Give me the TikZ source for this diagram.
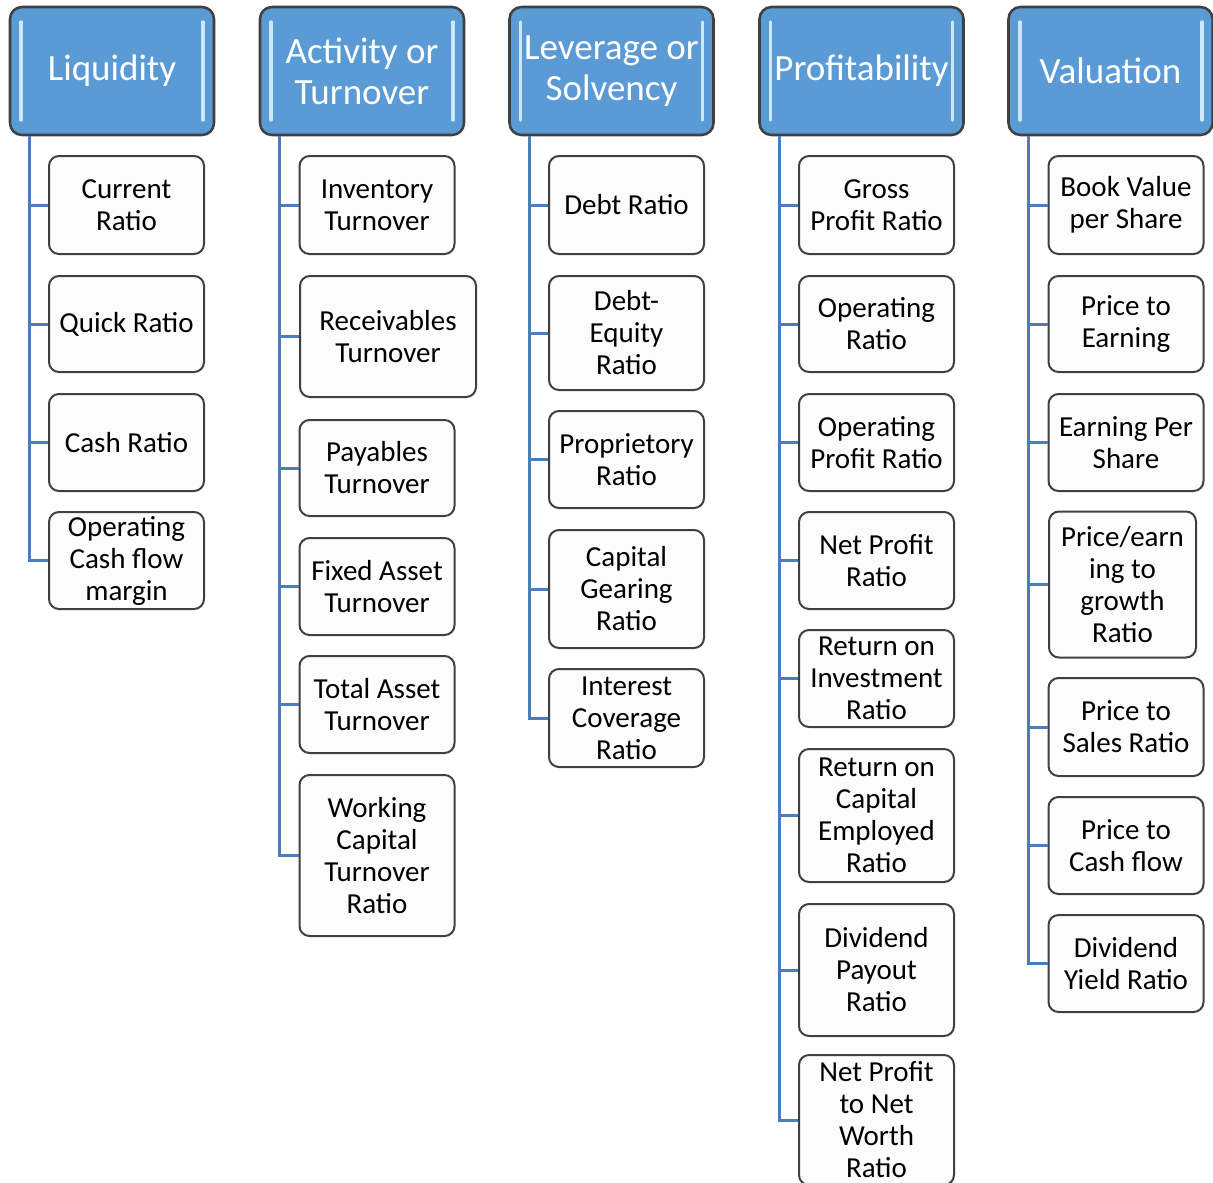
\documentclass[tikz,border=0pt]{standalone}
\usepackage{fontspec}
\setmainfont{Carlito}

\definecolor{hdrblue}{RGB}{91,155,213}
\definecolor{hdrgloss}{RGB}{205,232,252}
\definecolor{linkblue}{RGB}{74,126,187}
\definecolor{rim}{RGB}{64,64,64}

\tikzset{every picture/.style={line width=0.75pt}}
\tikzset{
  hdr/.style={draw=rim, line width=1.9pt, rounded corners=9pt, fill=hdrblue, text=white,
    minimum width=153pt, minimum height=96pt, inner sep=0pt, align=center,
    font=\fontsize{27.75}{30.75}\selectfont},
  kid/.style={draw=rim, line width=1.5pt, rounded corners=7.5pt,
    fill={rgb,255:red,252;green,252;blue,252}, minimum width=116.25pt,
    minimum height=0.75pt*#1, inner sep=1pt, align=center,
    font=\fontsize{21.75}{24}\selectfont},
  wide/.style={minimum width=0.75pt*#1},
  link/.style={draw=linkblue, line width=2.25pt},
  gloss/.style={draw=hdrgloss, line width=2.6pt, line cap=round}
}

\begin{document}
\begin{tikzpicture}[x=0.75pt,y=0.75pt,yscale=-1]
	\useasboundingbox (0,0) rectangle (1213,1182);

	% Header Nodes
	\node [hdr] (liq) at (112,71) {Liquidity};
	\node [hdr] (act) at (362,71) {Activity or\\Turnover};
	\node [hdr] (lev) at (611.5,71) {Leverage or\\Solvency};
	\node [hdr] (pro) at (861.5,71) {Profitability};
	\node [hdr] (val) at (1110.5,71) {Valuation};

	% gloss on headers
	\foreach \hx in {10,260,509.5,759.5,1009} {
		\draw [gloss] (\hx+11,22) -- (\hx+11,120);
		\draw [gloss] (\hx+193,22) -- (\hx+193,120);
	}

	% Liquidity
	\node [kid=98] (liq1) at (126.5,205) {Current\\Ratio};
	\node [kid=96] (liq2) at (126.5,324) {Quick Ratio};
	\node [kid=97] (liq3) at (126.5,442.5) {Cash Ratio};
	\node [kid=97] (liq4) at (126.5,560.5) {Operating\\Cash flow\\margin};

	% Activity or Turnover
	\node [kid=98] (act1) at (377,205) {Inventory\\Turnover};
	\node [kid=121, wide=176] (act2) at (388,336.5) {Receivables\\Turnover};
	\node [kid=96] (act3) at (377,468) {Payables\\Turnover};
	\node [kid=97] (act4) at (377,586.5) {Fixed Asset\\Turnover};
	\node [kid=97] (act5) at (377,704.5) {Total Asset\\Turnover};
	\node [kid=161] (act6) at (377,855.5) {Working\\Capital\\Turnover\\Ratio};

	% Leverage or Solvency
	\node [kid=98] (lev1) at (626.5,205) {Debt Ratio};
	\node [kid=114] (lev2) at (626.5,333) {Debt-\\Equity\\Ratio};
	\node [kid=97] (lev3) at (626.5,459.5) {Proprietory\\Ratio};
	\node [kid=118] (lev4) at (626.5,589) {Capital\\Gearing\\Ratio};
	\node [kid=98] (lev5) at (626.5,718) {Interest\\Coverage\\Ratio};

	% Profitability
	\node [kid=98] (pro1) at (876.5,205) {Gross\\Profit Ratio};
	\node [kid=96] (pro2) at (876.5,324) {Operating\\Ratio};
	\node [kid=97] (pro3) at (876.5,442.5) {Operating\\Profit Ratio};
	\node [kid=97] (pro4) at (876.5,560.5) {Net Profit\\Ratio};
	\node [kid=97] (pro5) at (876.5,678.5) {Return on\\Investment\\Ratio};
	\node [kid=133] (pro6) at (876.5,815.5) {Return on\\Capital\\Employed\\Ratio};
	\node [kid=132] (pro7) at (876.5,970) {Dividend\\Payout\\Ratio};
	\node [kid=130] (pro8) at (876.5,1120) {Net Profit\\to Net\\Worth\\Ratio};

	% Valuation
	\node [kid=98] (val1) at (1126,205) {Book Value\\per Share};
	\node [kid=96] (val2) at (1126,324) {Price to\\Earning};
	\node [kid=97] (val3) at (1126,442.5) {Earning Per\\Share};
	\node [kid=146, wide=147] (val4) at (1122.5,584.5) {Price/earn\\ing to\\growth\\Ratio};
	\node [kid=98] (val5) at (1126,727) {Price to\\Sales Ratio};
	\node [kid=97] (val6) at (1126,845.5) {Price to\\Cash flow};
	\node [kid=97] (val7) at (1126,963.5) {Dividend\\Yield Ratio};

	% Connectors
	\foreach \k in {1,...,4}
		\draw [link] ([xshift=15.75pt]liq.south west) |- (liq\k.west);
	\foreach \k in {1,...,6}
		\draw [link] ([xshift=15.75pt]act.south west) |- (act\k.west);
	\foreach \k in {1,...,5}
		\draw [link] ([xshift=15.75pt]lev.south west) |- (lev\k.west);
	\foreach \k in {1,...,8}
		\draw [link] ([xshift=15.75pt]pro.south west) |- (pro\k.west);
	\foreach \k in {1,...,7}
		\draw [link] ([xshift=15.75pt]val.south west) |- (val\k.west);

\end{tikzpicture}
\end{document}
